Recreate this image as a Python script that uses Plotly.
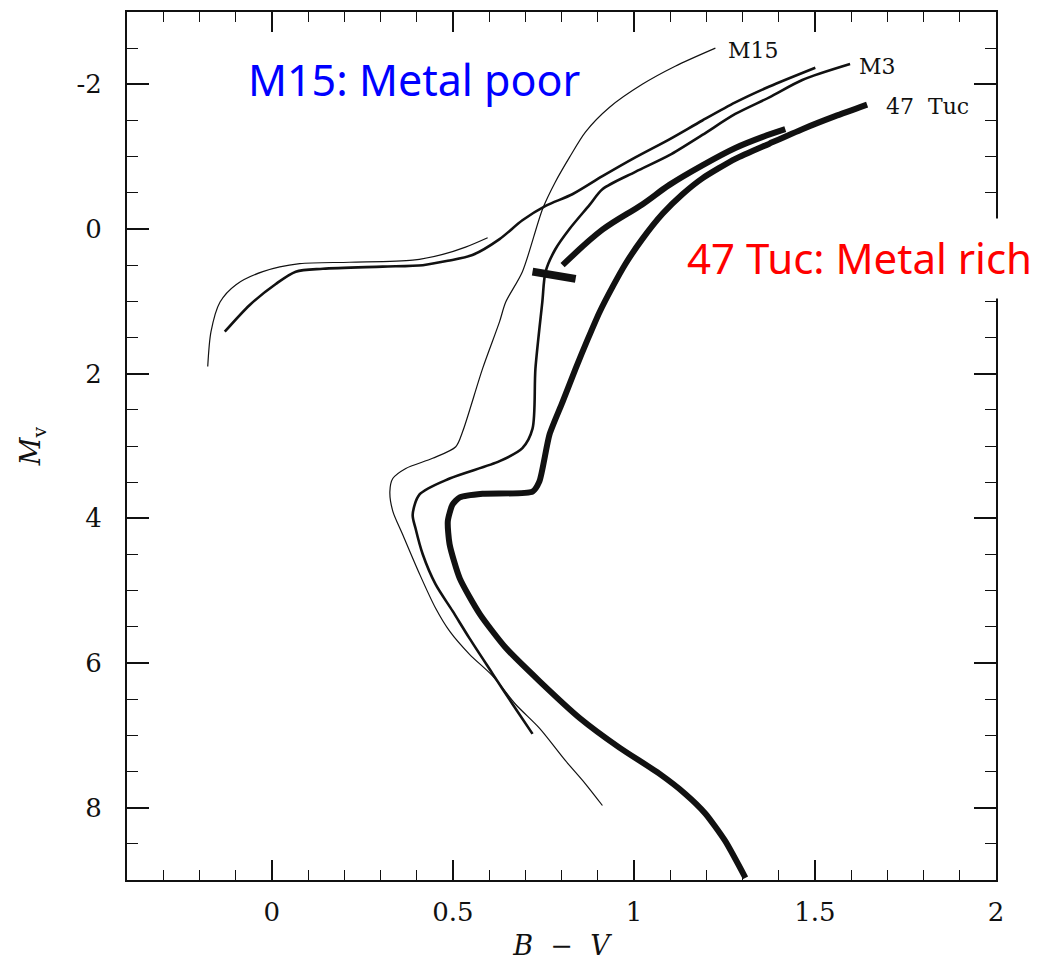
import plotly.graph_objects as go

# Colour-magnitude diagram: fiducial sequences of three globular clusters

# M15 (metal poor): main sequence, turnoff, subgiant and red giant branch
m15_bv = [0.913, 0.866, 0.811, 0.739, 0.673, 0.610, 0.546, 0.491, 0.452, 0.408,
          0.361, 0.334, 0.326, 0.334, 0.370, 0.444, 0.508, 0.527, 0.582, 0.629,
          0.646, 0.692, 0.748, 0.783, 0.822, 0.866, 0.932, 1.023, 1.114, 1.225]
m15_mv = [7.97, 7.67, 7.35, 6.90, 6.57, 6.18, 5.88, 5.56, 5.24, 4.77,
          4.22, 3.90, 3.63, 3.45, 3.31, 3.17, 3.01, 2.80, 1.93, 1.28,
          1.01, 0.59, -0.28, -0.65, -0.99, -1.34, -1.68, -2.00, -2.25, -2.50]
# M15 horizontal branch
m15_hb_bv = [-0.177, -0.168, -0.143, -0.099, -0.025, 0.077, 0.215, 0.389, 0.472, 0.535, 0.596]
m15_hb_mv = [1.90, 1.42, 1.01, 0.77, 0.59, 0.48, 0.46, 0.43, 0.35, 0.25, 0.12]

# M3: main sequence up the red giant branch
m3_bv = [0.720, 0.665, 0.610, 0.546, 0.499, 0.452, 0.417, 0.397, 0.389, 0.408,
         0.491, 0.629, 0.692, 0.720, 0.728, 0.747, 0.756, 0.783, 0.822, 0.877,
         0.913, 1.004, 1.098, 1.189, 1.280, 1.374, 1.465, 1.597]
m3_mv = [6.98, 6.57, 6.15, 5.66, 5.28, 4.91, 4.50, 4.14, 3.95, 3.67,
         3.45, 3.21, 3.03, 2.76, 1.93, 1.01, 0.59, 0.28, 0.00, -0.33,
         -0.55, -0.79, -1.02, -1.30, -1.59, -1.82, -2.06, -2.28]
# M3 horizontal branch running into the asymptotic giant branch
m3_hb_bv = [-0.130, -0.061, 0.011, 0.066, 0.141, 0.306, 0.417, 0.486, 0.554, 0.629,
            0.692, 0.756, 0.830, 0.913, 1.004, 1.098, 1.189, 1.280, 1.374, 1.501]
m3_hb_mv = [1.42, 1.05, 0.76, 0.59, 0.55, 0.52, 0.50, 0.44, 0.36, 0.14,
            -0.12, -0.32, -0.48, -0.73, -0.99, -1.24, -1.50, -1.75, -1.97, -2.23]

# 47 Tuc (metal rich): main sequence up the red giant branch
tuc_bv = [1.308, 1.252, 1.197, 1.142, 1.070, 0.960, 0.850, 0.739, 0.646, 0.574,
          0.519, 0.491, 0.486, 0.499, 0.519, 0.582, 0.720, 0.739, 0.767, 0.803,
          0.839, 0.872, 0.905, 0.941, 0.977, 1.023, 1.079, 1.134, 1.189, 1.280,
          1.374, 1.465, 1.556, 1.644]
tuc_mv = [8.97, 8.46, 8.08, 7.81, 7.53, 7.17, 6.76, 6.25, 5.79, 5.32,
          4.83, 4.36, 4.04, 3.81, 3.71, 3.66, 3.63, 3.49, 2.84, 2.39,
          1.93, 1.53, 1.15, 0.80, 0.48, 0.14, -0.21, -0.48, -0.70, -0.97,
          -1.18, -1.38, -1.56, -1.72]
# 47 Tuc red clump
tuc_hb_bv = [0.720, 0.839]
tuc_hb_mv = [0.59, 0.69]
# 47 Tuc asymptotic giant branch
tuc_agb_bv = [0.803, 0.913, 1.023, 1.098, 1.189, 1.280, 1.354, 1.418]
tuc_agb_mv = [0.50, 0.01, -0.34, -0.61, -0.88, -1.12, -1.27, -1.38]

# Cluster name labels at the tip of each giant branch
name_text = ["M15", "M3", "47\u00a0\u00a0Tuc"]
name_bv = [1.33, 1.672, 1.81]
name_mv = [-2.47, -2.25, -1.70]

x_ticks = [0, 0.5, 1, 1.5, 2]
x_ticktext = ["0", "0.5", "1", "1.5", "2"]
y_ticks = [-2, 0, 2, 4, 6, 8]
y_ticktext = ["-2", "0", "2", "4", "6", "8"]

INK = "#111111"

fig = go.Figure()


def curve(x, y, width, smooth=0.8):
    fig.add_trace(go.Scatter(
        x=x, y=y, mode="lines",
        line=dict(color=INK, width=width, shape="spline", smoothing=smooth),
        hoverinfo="skip", showlegend=False))


curve(m15_bv, m15_mv, 1.2)
curve(m15_hb_bv, m15_hb_mv, 1.2)
curve(m3_bv, m3_mv, 2.6)
curve(m3_hb_bv, m3_hb_mv, 2.6)
curve(tuc_bv, tuc_mv, 6, 0.6)
curve(tuc_agb_bv, tuc_agb_mv, 6, 1.0)
fig.add_trace(go.Scatter(
    x=tuc_hb_bv, y=tuc_hb_mv, mode="lines",
    line=dict(color=INK, width=8), hoverinfo="skip", showlegend=False))

label_font = dict(family="DejaVu Serif", size=22, color=INK)
for t, bx, my in zip(name_text, name_bv, name_mv):
    fig.add_annotation(x=bx, y=my, text=t, showarrow=False, font=label_font,
                       xanchor="center", yanchor="middle")

# Overlaid captions
fig.add_shape(type="rect", xref="paper", yref="paper",
              x0=0.620, x1=1.06, y0=0.670, y1=0.762,
              fillcolor="white", line=dict(width=0), layer="above")
fig.add_annotation(x=0.394, y=-2.06, text="M15: Metal poor", showarrow=False,
                   font=dict(family="Noto Sans", size=43, color="#0000FF"),
                   xanchor="center", yanchor="middle")
fig.add_annotation(x=1.624, y=0.40, text="47 Tuc: Metal rich", showarrow=False,
                   font=dict(family="Noto Sans", size=42, color="#FF0000"),
                   xanchor="center", yanchor="middle")

tick_font = dict(family="DejaVu Serif", size=26, color=INK)
fig.update_xaxes(
    range=[-0.4, 2.0], tickvals=x_ticks, ticktext=x_ticktext,
    ticks="inside", ticklen=20, tickwidth=1.5, tickcolor=INK,
    minor=dict(dtick=0.1, tick0=0, ticks="inside", ticklen=10, tickwidth=1.2, tickcolor=INK),
    showline=True, linecolor=INK, linewidth=2, mirror="allticks",
    showgrid=False, zeroline=False, tickfont=tick_font, ticklabelstandoff=8,
    title=dict(text="<i>B</i>  \u2212  <i>V</i>", font=dict(family="DejaVu Serif", size=27, color=INK), standoff=10),
)
fig.update_yaxes(
    range=[9, -3], tickvals=y_ticks, ticktext=y_ticktext,
    ticks="inside", ticklen=22, tickwidth=1.5, tickcolor=INK,
    minor=dict(dtick=0.5, tick0=0, ticks="inside", ticklen=11, tickwidth=1.2, tickcolor=INK),
    showline=True, linecolor=INK, linewidth=2, mirror="allticks",
    showgrid=False, zeroline=False, tickfont=tick_font, ticklabelstandoff=18,
    title=dict(text="<i>M</i><sub>v</sub>", font=dict(family="DejaVu Serif", size=27, color=INK), standoff=28),
)

fig.update_layout(
    width=1051, height=966,
    margin=dict(l=127, r=55, t=10, b=86),
    paper_bgcolor="white", plot_bgcolor="white",
)

fig.write_html("out.html")
